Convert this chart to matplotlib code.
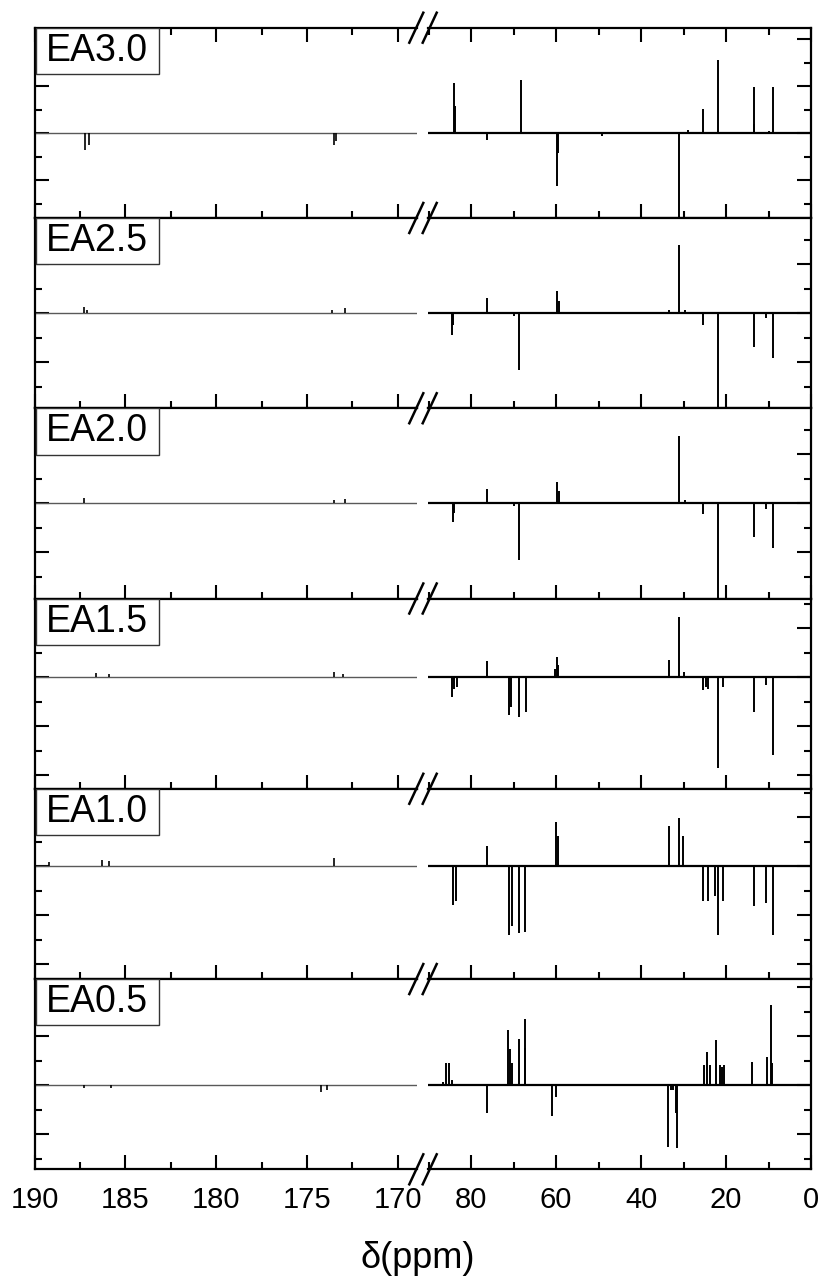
import numpy as np
import matplotlib.pyplot as plt
from matplotlib.lines import Line2D
from matplotlib.patches import Rectangle

plt.rcParams['font.family'] = ['Liberation Sans', 'DejaVu Sans']

# sample names, top to bottom
labels = ["EA3.0", "EA2.5", "EA2.0", "EA1.5", "EA1.0", "EA0.5"]

# peak positions (ppm) and signed intensities (arb. units) for each spectrum
ppm_30 = [187.2, 187.0, 173.5, 173.4, 84.1, 83.8, 76.2, 68.3, 59.7, 59.5, 49.2,
          31.1, 29.0, 25.3, 21.9, 13.5, 13.3, 10.0, 9.0]
int_30 = [-17, -12, -12, -8, 50, 27, -7, 53, -53, -20, -3,
          -84, 3, 24, 73, 46, 9, 2, 46]

ppm_25 = [187.3, 187.1, 173.6, 172.9, 84.4, 84.2, 76.2, 69.8, 68.8, 59.7, 59.2,
          33.4, 31.1, 29.6, 25.3, 21.9, 13.5, 10.6, 9.0]
int_25 = [6, 3, 3, 5, -22, -12, 15, -3, -57, 22, 12,
          3, 68, 3, -12, -94, -34, -5, -45]

ppm_20 = [187.3, 173.5, 172.9, 84.3, 84.1, 76.2, 69.8, 68.8, 59.8, 59.4,
          31.1, 29.6, 25.3, 21.9, 13.5, 10.6, 9.0]
int_20 = [5, 3, 4, -19, -10, 14, -3, -57, 21, 12,
          67, 3, -11, -95, -34, -6, -45]

ppm_15 = [186.6, 185.9, 173.5, 173.0, 84.5, 84.0, 83.4, 76.2, 71.0, 70.5, 68.8, 67.0,
          60.3, 59.8, 59.5, 33.4, 31.1, 30.0, 25.5, 24.8, 24.3, 21.9, 20.7,
          13.5, 10.6, 9.0]
int_15 = [4, 3, 5, 3, -20, -12, -10, 16, -38, -30, -40, -35,
          8, 20, 12, 17, 60, 5, -13, -10, -12, -91, -10,
          -35, -8, -78]

ppm_10 = [189.2, 186.3, 185.9, 173.5, 84.3, 83.6, 76.2, 71.0, 70.4, 68.8, 67.2,
          59.9, 59.5, 33.4, 31.1, 30.2, 25.3, 24.3, 22.7, 21.9, 20.7,
          13.5, 10.6, 9.0]
int_10 = [4, 6, 5, 8, -39, -35, 20, -69, -60, -67, -66,
          44, 30, 40, 48, 30, -35, -35, -30, -69, -35,
          -40, -37, -69]

ppm_05 = [187.3, 185.8, 174.2, 173.9, 86.6, 85.9, 85.2, 84.5, 76.3, 71.4, 70.8, 70.3,
          68.6, 67.4, 67.2, 60.9, 60.0, 33.6, 33.0, 32.5, 31.8, 31.5,
          25.1, 24.4, 23.8, 22.4, 21.4, 20.9, 20.5, 14.0, 10.4, 9.4, 9.2]
int_05 = [-3, -3, -7, -5, 3, 22, 22, 5, -28, 55, 36, 22,
          46, 66, 37, -31, -12, -62, -5, -5, -28, -63,
          20, 33, 20, 45, 20, 18, 20, 23, 28, 80, 22]

ppms = [ppm_30, ppm_25, ppm_20, ppm_15, ppm_10, ppm_05]
ints = [int_30, int_25, int_20, int_15, int_10, int_05]

W, H = 822, 1283
fig = plt.figure(figsize=(W / 100, H / 100), dpi=100)

def fx(px):
    return px / W

def fy(py):
    return 1 - py / H

# layout in pixels of the reference
x_left, x_brk1, x_brk2, x_right = 34.5, 417.0, 428.0, 811.0
top0, ph = 27.7, 190.27
base_rows = [133.3, 313.3, 503.0, 677.0, 866.0, 1085.0]
steps = [47, 49, 49, 49, 49, 49]

xl_lim = (190, 190 - (x_brk1 - x_left) / 18.16)
xr_lim = ((x_right - x_brk2) / 4.25, 0)

for i in range(6):
    top = top0 + i * ph
    bot = top + ph
    ylim = (-(bot - base_rows[i]), base_rows[i] - top)
    axL = fig.add_axes([fx(x_left), fy(bot), fx(x_brk1) - fx(x_left), ph / H])
    axR = fig.add_axes([fx(x_brk2), fy(bot), fx(x_right) - fx(x_brk2), ph / H])
    p = np.array(ppms[i])
    v = np.array(ints[i])
    for ax, lim in ((axL, xl_lim), (axR, xr_lim)):
        sel = (p <= max(lim)) & (p >= min(lim))
        if ax is axL:
            ax.hlines(0, lim[0], lim[1], color='0.35', lw=1.0)
            ax.vlines(p[sel], 0, v[sel], color='black', lw=1.2)
        else:
            ax.hlines(0, lim[0], lim[1], color='black', lw=1.6)
            ax.vlines(p[sel], 0, v[sel], color='black', lw=1.4)
        ax.set_xlim(*lim)
        ax.set_ylim(*ylim)
        s = steps[i]
        ax.set_yticks([k * s for k in range(-3, 4) if ylim[0] <= k * s <= ylim[1]])
        ax.set_yticks([(k + 0.5) * s for k in range(-4, 4)
                       if ylim[0] <= (k + 0.5) * s <= ylim[1]], minor=True)
        ax.tick_params(which='major', direction='in', length=10, width=1.5,
                       labelsize=21, pad=12)
        ax.tick_params(which='minor', direction='in', length=5, width=1.5)
        ax.tick_params(axis='y', which='both', labelleft=False, labelright=False)
        ax.tick_params(axis='x', which='both', bottom=True, top=(i == 0),
                       labelbottom=(i == 5), labeltop=False)
        for sp in ax.spines.values():
            sp.set_linewidth(1.6)
    axL.set_xticks([190, 185, 180, 175, 170])
    axL.set_xticks([187.5, 182.5, 177.5, 172.5], minor=True)
    axR.set_xticks([80, 60, 40, 20, 0])
    axR.set_xticks([90, 70, 50, 30, 10], minor=True)
    axL.spines['right'].set_visible(False)
    axR.spines['left'].set_visible(False)
    axL.tick_params(axis='y', which='both', left=True, right=False)
    axR.tick_params(axis='y', which='both', left=False, right=True)

    # sample label box
    bw = (158 - x_left) / (x_brk1 - x_left)
    bh = 46.3 / ph
    axL.add_patch(Rectangle((0.003, 1 - bh), bw, bh, transform=axL.transAxes,
                            facecolor='white', edgecolor='0.2', lw=1.0, zorder=5))
    axL.text(bw / 2 + 0.003, 1 - bh / 2, labels[i], transform=axL.transAxes,
             ha='center', va='center', fontsize=27, zorder=6)

# axis break marks
for j in range(7):
    yb = top0 + j * ph
    for cx in (416.3, 429.7):
        fig.add_artist(Line2D([fx(cx - 7), fx(cx + 7)], [fy(yb + 15), fy(yb - 15)],
                              transform=fig.transFigure, color='black', lw=1.8))

fig.text(fx(418), fy(1258), 'δ(ppm)', ha='center', va='center', fontsize=26)

fig.savefig('out.png', dpi=100)
